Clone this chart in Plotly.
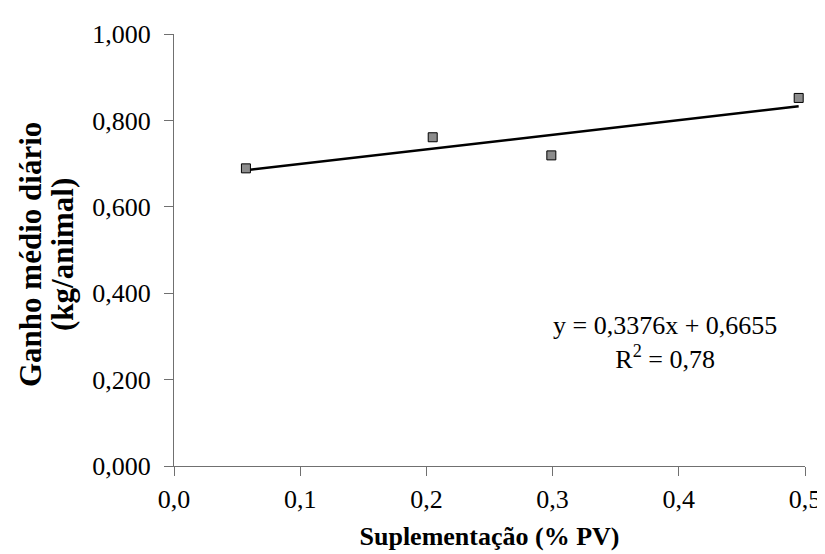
import plotly.graph_objects as go

# Data
supl = [0.057, 0.205, 0.299, 0.495]
ganho = [0.689, 0.761, 0.719, 0.852]
slope = 0.3376
intercept = 0.6655
x_ticks = [0.0, 0.1, 0.2, 0.3, 0.4, 0.5]
x_ticklabels = ["0,0", "0,1", "0,2", "0,3", "0,4", "0,5"]
y_ticks = [0.0, 0.2, 0.4, 0.6, 0.8, 1.0]
y_ticklabels = ["0,000", "0,200", "0,400", "0,600", "0,800", "1,000"]
y_title_lines = ["Ganho médio diário", "(kg/animal)"]

font_family = "Liberation Serif, Times New Roman, serif"

trend_x = [min(supl), max(supl)]
trend_y = [slope * v + intercept for v in trend_x]

fig = go.Figure()
fig.add_trace(go.Scatter(
    x=trend_x, y=trend_y, mode="lines",
    line=dict(color="black", width=2.5), showlegend=False, hoverinfo="skip"))
fig.add_trace(go.Scatter(
    x=supl, y=ganho, mode="markers",
    marker=dict(symbol="square", size=9, color="#8c8c8c",
                line=dict(color="black", width=1)),
    showlegend=False))

fig.add_annotation(
    x=0.389, y=0.285, xref="x", yref="y",
    text="y = 0,3376x + 0,6655<br>R<sup>2</sup> = 0,78",
    showarrow=False, align="center",
    font=dict(family=font_family, size=26, color="black"))

# y-axis title, two rotated lines
for i, line in enumerate(y_title_lines):
    fig.add_annotation(
        x=0, y=0.5, xref="paper", yref="paper",
        xanchor="center", yanchor="middle",
        xshift=-144 + 32 * i, yshift=-5,
        text="<b>" + line + "</b>", textangle=-90, showarrow=False,
        font=dict(family=font_family, size=31, color="black"))

fig.update_layout(
    width=825, height=554,
    margin=dict(l=166, r=21, t=24, b=96),
    paper_bgcolor="white", plot_bgcolor="white",
    font=dict(family=font_family, size=26, color="black"),
    xaxis=dict(
        range=[0, 0.5], tickvals=x_ticks, ticktext=x_ticklabels,
        showgrid=False, zeroline=False, showline=True,
        linecolor="#707070", linewidth=1,
        ticks="outside", ticklen=9, tickcolor="#707070",
        ticklabelstandoff=1,
        title=dict(text="<b>Suplementação (% PV)</b>",
                   font=dict(family=font_family, size=26), standoff=13)),
    yaxis=dict(
        range=[0, 1], tickvals=y_ticks, ticktext=y_ticklabels,
        showgrid=False, zeroline=False, showline=True,
        linecolor="#707070", linewidth=1,
        ticks="outside", ticklen=9, tickcolor="#707070",
        ticklabelstandoff=8),
)

fig.write_html("out.html")
